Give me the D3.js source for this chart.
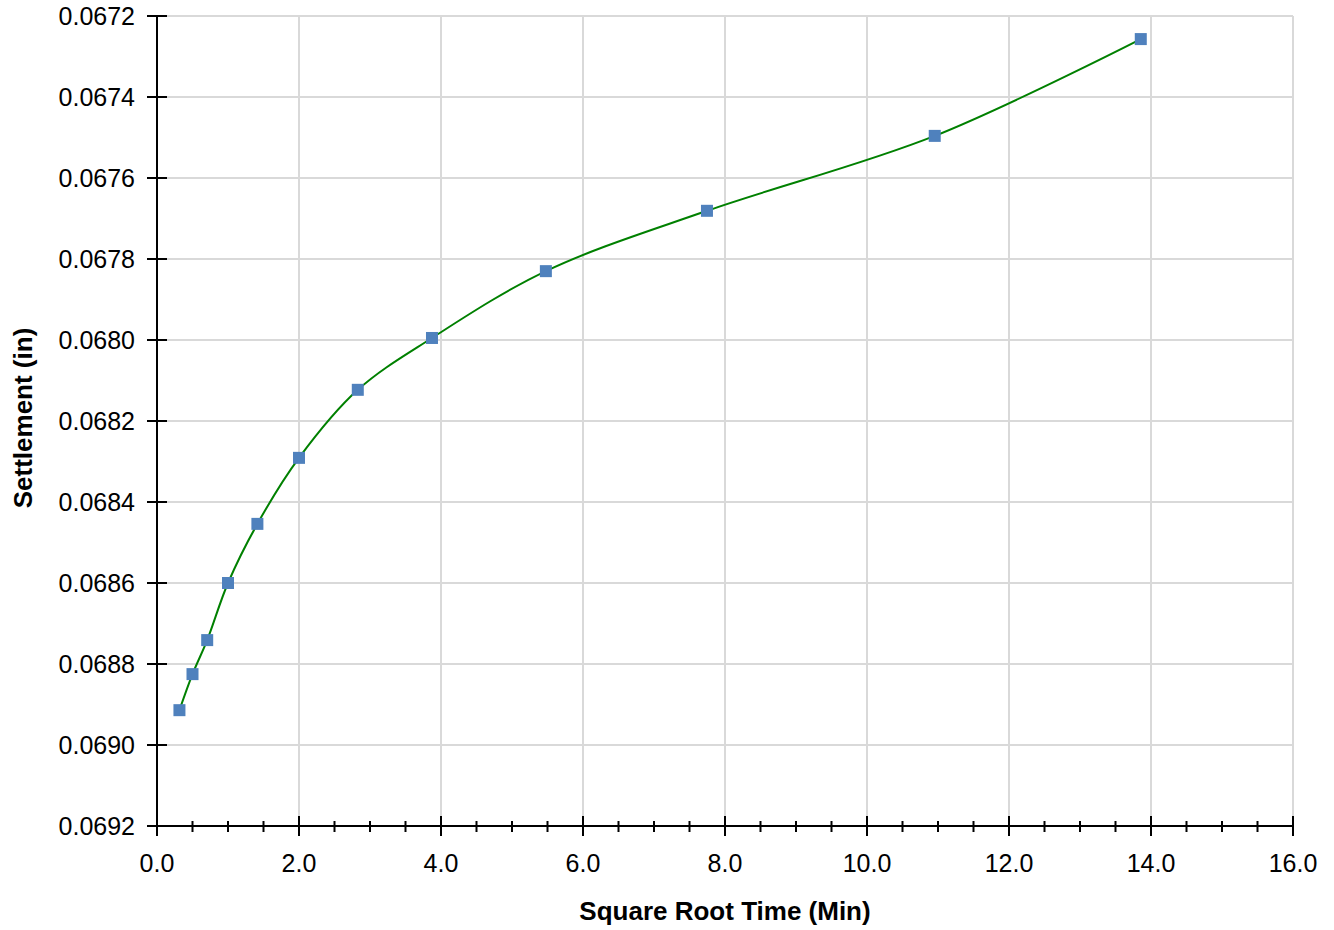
<!DOCTYPE html>
<html><head><meta charset="utf-8">
<script src="https://cdn.jsdelivr.net/npm/d3@7"></script>
<style>body{margin:0;background:#fff;} text{font-family:"Liberation Sans",Arial,sans-serif;}</style>
</head><body>
<svg id="c" width="1334" height="930"></svg>
<script>
const sqrtTime = [0.316, 0.5, 0.707, 1.0, 1.414, 2.0, 2.828, 3.873, 5.477, 7.746, 10.954, 13.856];
const settlement = [0.068914, 0.068825, 0.068741, 0.0686, 0.068454, 0.068291, 0.068123, 0.067995, 0.06783, 0.067681, 0.067496, 0.067257];
const xTicks = [0,2,4,6,8,10,12,14,16];
const xMinor = d3.range(0, 16.01, 0.5);
const yTicks = [0.0672,0.0674,0.0676,0.0678,0.0680,0.0682,0.0684,0.0686,0.0688,0.0690,0.0692];
const xTitle = "Square Root Time (Min)";
const yTitle = "Settlement (in)";

const svg = d3.select("#c");
const L=157, R=1293, T=16, B=826;
const x = d3.scaleLinear().domain([0,16]).range([L,R]);
const y = d3.scaleLinear().domain([0.0672,0.0692]).range([T,B]);

// grid
svg.append("g").selectAll("line").data(xTicks.filter(d=>d>0)).join("line")
  .attr("x1",d=>x(d)).attr("x2",d=>x(d)).attr("y1",T).attr("y2",B)
  .attr("stroke","#d9d9d9").attr("stroke-width",2);
svg.append("g").selectAll("line").data(yTicks.slice(0,-1)).join("line")
  .attr("x1",L).attr("x2",R).attr("y1",d=>y(d)).attr("y2",d=>y(d))
  .attr("stroke","#d9d9d9").attr("stroke-width",2);

// y axis
const ya = svg.append("g");
ya.append("line").attr("x1",L).attr("x2",L).attr("y1",T).attr("y2",B).attr("stroke","#000").attr("stroke-width",2);
ya.selectAll(".t").data(yTicks).join("line").attr("class","t")
  .attr("x1",L-10).attr("x2",L+10).attr("y1",d=>y(d)).attr("y2",d=>y(d)).attr("stroke","#000").attr("stroke-width",2);
ya.selectAll("text").data(yTicks).join("text")
  .attr("x",135).attr("y",d=>y(d)).attr("dy","0.36em").attr("text-anchor","end")
  .attr("font-size",25).attr("fill","#000").text(d=>d.toFixed(4));

// x axis
const xa = svg.append("g");
xa.append("line").attr("x1",L).attr("x2",R).attr("y1",B).attr("y2",B).attr("stroke","#000").attr("stroke-width",2);
xa.selectAll(".m").data(xMinor).join("line").attr("class","m")
  .attr("x1",d=>x(d)).attr("x2",d=>x(d)).attr("y1",B-5).attr("y2",B+6).attr("stroke","#000").attr("stroke-width",2);
xa.selectAll(".t").data(xTicks).join("line").attr("class","t")
  .attr("x1",d=>x(d)).attr("x2",d=>x(d)).attr("y1",B-10).attr("y2",B+10).attr("stroke","#000").attr("stroke-width",2);
xa.selectAll("text").data(xTicks).join("text")
  .attr("x",d=>x(d)).attr("y",872).attr("text-anchor","middle")
  .attr("font-size",25).attr("fill","#000").text(d=>d.toFixed(1));

// titles
svg.append("text").attr("x",(L+R)/2).attr("y",920).attr("text-anchor","middle")
  .attr("font-size",26).attr("font-weight","bold").text(xTitle);
svg.append("text").attr("transform",`translate(32,418) rotate(-90)`).attr("text-anchor","middle")
  .attr("font-size",26).attr("font-weight","bold").text(yTitle);

// line
const pts = sqrtTime.map((d,i)=>[d,settlement[i]]);
svg.append("path").datum(pts)
  .attr("d", d3.line().x(d=>x(d[0])).y(d=>y(d[1])).curve(d3.curveCatmullRom.alpha(0.5)))
  .attr("fill","none").attr("stroke","#008000").attr("stroke-width",2);

// markers
svg.append("g").selectAll("rect").data(pts).join("rect")
  .attr("x",d=>x(d[0])-6).attr("y",d=>y(d[1])-6).attr("width",12).attr("height",12)
  .attr("fill","#4f81bd");
</script>
</body></html>
